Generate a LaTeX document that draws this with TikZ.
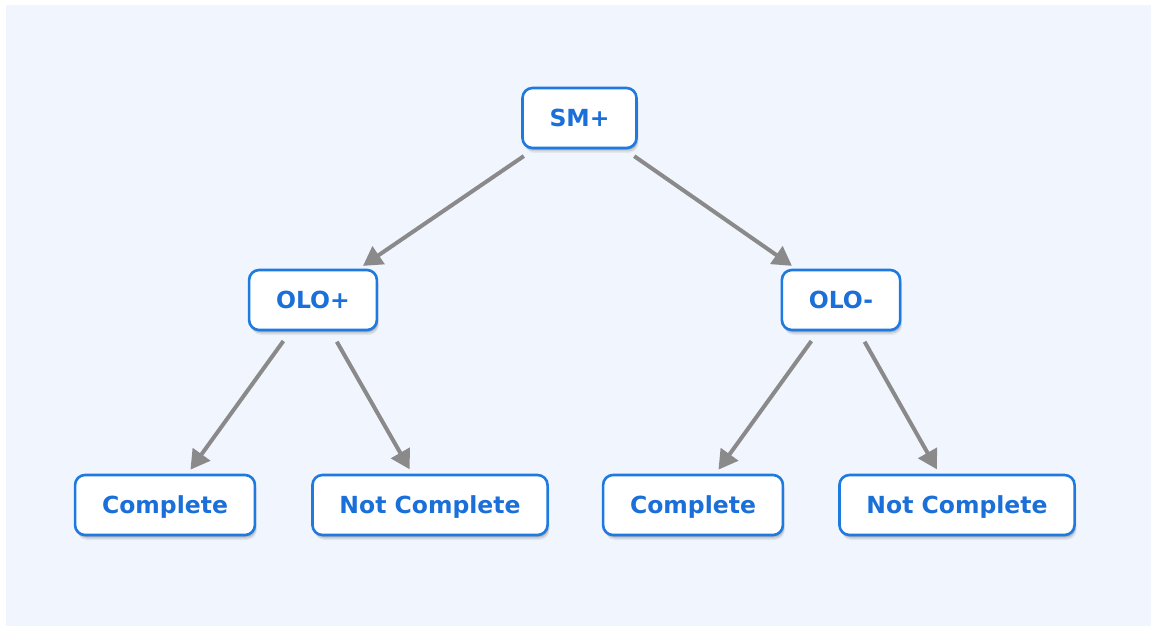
\documentclass[tikz,border=0pt]{standalone}
\usepackage{fontspec}
\setmainfont{DejaVu Sans}
\usetikzlibrary{arrows.meta,shadows}
\definecolor{pagebg}{HTML}{F1F5FE}
\definecolor{boxline}{HTML}{1F7AE0}
\definecolor{boxtext}{HTML}{1A6FD8}
\definecolor{linkgray}{HTML}{8A8A8A}
\tikzset{
  softshadow/.style={
    drop shadow={shadow xshift=1pt, shadow yshift=-2pt, opacity=0.14, fill=black},
    drop shadow={shadow xshift=1.5pt, shadow yshift=-3.5pt, opacity=0.10, fill=black},
    drop shadow={shadow xshift=2pt, shadow yshift=-5pt, opacity=0.06, fill=black}},
  treebox/.style={draw=boxline, line width=2.6pt, fill=white, rounded corners=10pt,
    minimum height=60pt, inner xsep=27pt, inner ysep=0pt,
    text height=17pt, text depth=0pt,
    text=boxtext, font=\fontsize{23.5}{28}\selectfont\bfseries, softshadow},
  link/.style={draw=linkgray, line width=4pt,
    -{Triangle[length=19pt,width=21pt]},
    shorten <=12pt, shorten >=5pt}
}
\begin{document}
\begin{tikzpicture}[x=1pt,y=-1pt]
  % canvas and backdrop panel
  \useasboundingbox (0,0) rectangle (1153,628);
  \fill[white] (0,0) rectangle (1153,628);
  \fill[pagebg] (6,5) rectangle (1151,626);

  % tree nodes
  \node[treebox] (root) at (579.5,118) {SM+};
  \node[treebox] (olop) at (313,300) {OLO+};
  \node[treebox] (olom) at (841,300) {OLO-};
  \node[treebox] (c1)  at (165,505) {Complete};
  \node[treebox] (n1)  at (430,505) {Not Complete};
  \node[treebox] (c2)  at (693,505) {Complete};
  \node[treebox] (n2)  at (957,505) {Not Complete};

  % branches
  \draw[link] (root) -- (olop);
  \draw[link] (root) -- (olom);
  \draw[link] (olop) -- (c1);
  \draw[link] (olop) -- (n1);
  \draw[link] (olom) -- (c2);
  \draw[link] (olom) -- (n2);
\end{tikzpicture}
\end{document}
